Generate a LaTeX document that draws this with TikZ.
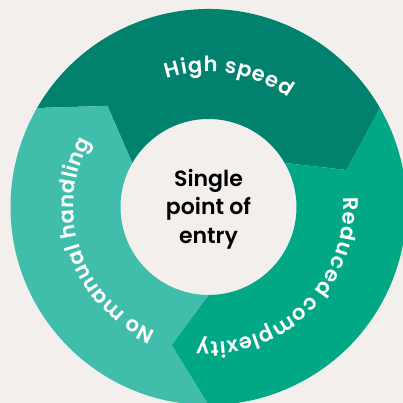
\documentclass[tikz,border=0pt]{standalone}
\usepackage{fontspec}
\setmainfont{Poppins}[BoldFont={Poppins SemiBold}]
\usetikzlibrary{decorations.text}
\definecolor{bgcol}{RGB}{242,239,236}
\definecolor{speedcol}{RGB}{0,130,111}
\definecolor{reducedcol}{RGB}{0,168,134}
\definecolor{manualcol}{RGB}{64,190,171}

\begin{document}
\begin{tikzpicture}[
      x=1pt,y=1pt,
      segment/.style={
         draw=none,
         fill=#1
      },
      ring label/.style={
         decorate,
         decoration={
            text along path,
            text align=fit to path,
            text color=white,
            text={|\fontsize{21}{21}\selectfont\bfseries|#1}
         }
      },
      centre text/.style={
         align=center,
         inner sep=0pt,
         font=\fontsize{22}{28.5}\selectfont\bfseries
      }
    ]
    % background and frame
    \fill[bgcol] (-208.5,-196) rectangle (194.5,207);
    \path[use as bounding box] (-208.5,-196) rectangle (194.5,207);
    \clip (-208.5,-196) rectangle (194.5,207);
    % the three arrow segments of the ring
    \path[segment=speedcol] (150:198) arc[start angle=150, end angle=30, radius=198]
       -- (15:143) -- (30:88) arc[start angle=30, end angle=150, radius=88]
       -- (135:143) -- cycle;
    \path[segment=reducedcol] (30:198) arc[start angle=30, end angle=-90, radius=198]
       -- (-105:143) -- (-90:88) arc[start angle=-90, end angle=30, radius=88]
       -- (15:143) -- cycle;
    \path[segment=manualcol] (270:198) arc[start angle=270, end angle=150, radius=198]
       -- (135:143) -- (150:88) arc[start angle=150, end angle=270, radius=88]
       -- (255:143) -- cycle;
    % labels along the ring
    \path[ring label={High speed}] (108:135) arc[start angle=108, end angle=54, radius=135];
    \path[ring label={Reduced complexity}] (4:135) arc[start angle=4, end angle=-95, radius=135];
    \path[ring label={No manual handling}] (247:135) arc[start angle=247, end angle=151, radius=135];
    % centre
    \node (entry) [centre text] at (0,-2) {Single\\point of\\entry};
\end{tikzpicture}
\end{document}
